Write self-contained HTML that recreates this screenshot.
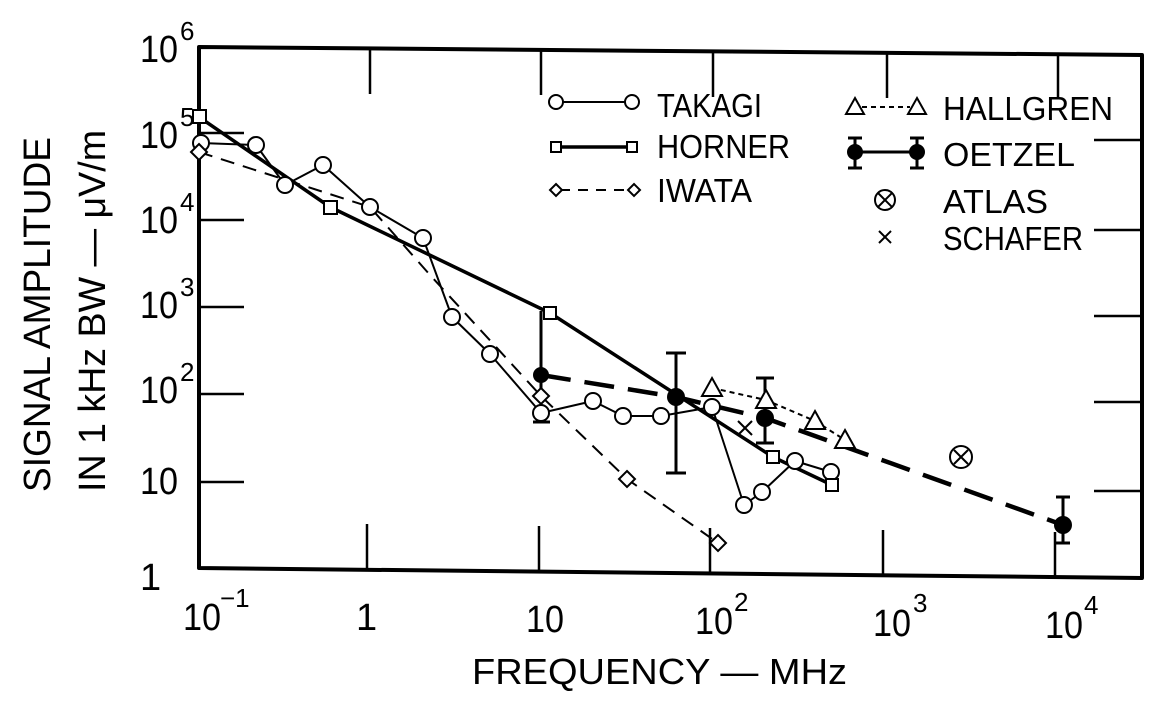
<!DOCTYPE html>
<html><head><meta charset="utf-8"><style>
html,body{margin:0;padding:0;background:#fff;}
svg{display:block;}
text{font-family:"Liberation Sans",sans-serif;fill:#000;}
</style></head><body>
<svg width="1174" height="701" viewBox="0 0 1174 701" xmlns="http://www.w3.org/2000/svg">
<g fill="none" stroke="#000" stroke-linejoin="round">
<polygon points="199,47 1142,55 1142,578 199,568" stroke-width="4"/>
<g stroke-width="2.5">
<line x1="199" y1="133" x2="244" y2="133"/><line x1="199" y1="220" x2="244" y2="220"/>
<line x1="199" y1="307" x2="244" y2="307"/><line x1="199" y1="394" x2="244" y2="394"/>
<line x1="199" y1="482" x2="244" y2="482"/>
<line x1="1094" y1="140" x2="1142" y2="140"/><line x1="1094" y1="230" x2="1142" y2="230"/>
<line x1="1094" y1="316" x2="1142" y2="316"/><line x1="1094" y1="402" x2="1142" y2="402"/>
<line x1="1094" y1="491" x2="1142" y2="491"/>
<line x1="370" y1="49" x2="370" y2="94"/><line x1="541" y1="50" x2="541" y2="95"/>
<line x1="713" y1="52" x2="713" y2="97"/><line x1="887" y1="53" x2="887" y2="98"/>
<line x1="1058" y1="54" x2="1058" y2="99"/>
<line x1="367" y1="569" x2="367" y2="524"/><line x1="539" y1="571" x2="539" y2="526"/>
<line x1="710" y1="573" x2="710" y2="528"/><line x1="883" y1="575" x2="883" y2="530"/>
<line x1="1055" y1="577" x2="1055" y2="532"/>
</g>
<polyline points="199,117 330,207 550,313 773,457 832,485" stroke-width="3.5"/>
<polyline points="201,143 256,145 285,185 323,165 370,207 423,238 452,317 490,354 541,413 593,401 623,416 661,416 712,407 744,505 762,492 795,461 831,472" stroke-width="2"/>
<polyline points="199,152 370,207 430,275 541,396 627,479 718,543" stroke-width="2" stroke-dasharray="14,9"/>
<polyline points="712,388 766,400 815,421 845,440" stroke-width="2" stroke-dasharray="5,4"/>
<polyline points="541,375 676,397 765,418 1063,525" stroke-width="4.5" stroke-dasharray="30,14"/>
<g stroke-width="3">
<line x1="541" y1="311" x2="541" y2="422"/><line x1="533" y1="422" x2="550" y2="422"/>
<line x1="676" y1="353" x2="676" y2="473"/><line x1="666" y1="353" x2="686" y2="353"/><line x1="666" y1="473" x2="686" y2="473"/>
<line x1="765" y1="378" x2="765" y2="443"/><line x1="756" y1="378" x2="774" y2="378"/><line x1="756" y1="443" x2="774" y2="443"/>
<line x1="1063" y1="497" x2="1063" y2="543"/><line x1="1056" y1="497" x2="1070" y2="497"/><line x1="1056" y1="543" x2="1070" y2="543"/>
</g>
</g>
<g fill="#fff" stroke="#000" stroke-width="2">
<g>
<circle cx="201" cy="143" r="8"/><circle cx="256" cy="145" r="8"/><circle cx="285" cy="185" r="8"/><circle cx="323" cy="165" r="8"/>
<circle cx="370" cy="207" r="8"/><circle cx="423" cy="238" r="8"/><circle cx="452" cy="317" r="8"/><circle cx="490" cy="354" r="8"/>
<circle cx="541" cy="413" r="8"/><circle cx="593" cy="401" r="8"/><circle cx="623" cy="416" r="8"/><circle cx="661" cy="416" r="8"/>
<circle cx="712" cy="407" r="8"/><circle cx="744" cy="505" r="8"/><circle cx="762" cy="492" r="8"/><circle cx="795" cy="461" r="8"/><circle cx="831" cy="472" r="8"/>
</g>
<rect x="193" y="110" width="13" height="13"/><rect x="324" y="201" width="13" height="13"/><rect x="544" y="307" width="12" height="12"/>
<rect x="767" y="451" width="12" height="12"/><rect x="826" y="479" width="12" height="12"/>
<polygon points="199,144 207,152 199,160 191,152"/><polygon points="541,388 549,396 541,404 533,396"/>
<polygon points="627,471 635,479 627,487 619,479"/><polygon points="718,535 726,543 718,551 710,543"/>
<polygon points="712,378 722,396 702,396"/><polygon points="766,390 776,408 756,408"/>
<polygon points="815,411 825,429 805,429"/><polygon points="845,430 855,448 835,448"/>
<circle cx="961" cy="457" r="11"/>
</g>
<g fill="#000"><circle cx="541" cy="375" r="8"/><circle cx="676" cy="397" r="9"/><circle cx="765" cy="418" r="9"/><circle cx="1063" cy="525" r="9"/></g>
<g stroke="#000" stroke-width="2"><line x1="954" y1="450" x2="968" y2="464"/><line x1="968" y1="450" x2="954" y2="464"/>
<line x1="738" y1="421" x2="752" y2="435"/><line x1="752" y1="421" x2="738" y2="435"/></g>
<g stroke="#000" stroke-width="2" fill="#fff">
<line x1="556" y1="102" x2="632" y2="102"/><circle cx="556" cy="102" r="7"/><circle cx="632" cy="102" r="7"/>
<line x1="558" y1="147" x2="632" y2="147" stroke-width="3.5"/><rect x="551" y="142" width="10" height="10"/><rect x="627" y="142" width="10" height="10"/>
<line x1="560" y1="190" x2="630" y2="190" stroke-dasharray="10,8"/>
<polygon points="556,184 562,190 556,196 550,190"/><polygon points="634,184 640,190 634,196 628,190"/>
<line x1="862" y1="107" x2="910" y2="107" stroke-dasharray="5,4"/>
<polygon points="855,98 864,114 846,114"/><polygon points="917,98 926,114 908,114"/>
<line x1="855" y1="152" x2="917" y2="152" stroke-width="3"/>
<line x1="855" y1="138" x2="855" y2="168" stroke-width="3"/><line x1="848" y1="138" x2="862" y2="138" stroke-width="3"/><line x1="848" y1="168" x2="862" y2="168" stroke-width="3"/>
<line x1="917" y1="138" x2="917" y2="168" stroke-width="3"/><line x1="910" y1="138" x2="924" y2="138" stroke-width="3"/><line x1="910" y1="168" x2="924" y2="168" stroke-width="3"/>
<circle cx="885" cy="200" r="10"/>
<line x1="878" y1="193" x2="892" y2="207"/><line x1="892" y1="193" x2="878" y2="207"/>
<line x1="879" y1="231" x2="891" y2="243"/><line x1="891" y1="231" x2="879" y2="243"/>
</g>
<circle cx="855" cy="152" r="8"/><circle cx="917" cy="152" r="8"/>
<g font-size="33">
<text x="657" y="117" textLength="105" lengthAdjust="spacingAndGlyphs">TAKAGI</text>
<text x="657" y="158" textLength="133" lengthAdjust="spacingAndGlyphs">HORNER</text>
<text x="657" y="202" textLength="95" lengthAdjust="spacingAndGlyphs">IWATA</text>
<text x="943" y="120" textLength="170" lengthAdjust="spacingAndGlyphs">HALLGREN</text>
<text x="943" y="166" textLength="132" lengthAdjust="spacingAndGlyphs">OETZEL</text>
<text x="943" y="213" textLength="105" lengthAdjust="spacingAndGlyphs">ATLAS</text>
<text x="943" y="250" textLength="140" lengthAdjust="spacingAndGlyphs">SCHAFER</text>
</g>
<g font-size="38">
<text x="140" y="62" textLength="38" lengthAdjust="spacingAndGlyphs">10</text><text x="180" y="40" font-size="26">6</text>
<text x="140" y="148" textLength="38" lengthAdjust="spacingAndGlyphs">10</text><text x="180" y="126" font-size="26">5</text>
<text x="140" y="233" textLength="38" lengthAdjust="spacingAndGlyphs">10</text><text x="180" y="211" font-size="26">4</text>
<text x="140" y="318" textLength="38" lengthAdjust="spacingAndGlyphs">10</text><text x="180" y="296" font-size="26">3</text>
<text x="140" y="403" textLength="38" lengthAdjust="spacingAndGlyphs">10</text><text x="180" y="381" font-size="26">2</text>
<text x="140" y="494" textLength="38" lengthAdjust="spacingAndGlyphs">10</text>
<text x="140" y="590">1</text>
<text x="183" y="630" textLength="38" lengthAdjust="spacingAndGlyphs">10</text><text x="220" y="607" font-size="26">−1</text>
<text x="356" y="630">1</text>
<text x="526" y="632" textLength="38" lengthAdjust="spacingAndGlyphs">10</text>
<text x="695" y="634" textLength="38" lengthAdjust="spacingAndGlyphs">10</text><text x="734" y="611" font-size="26">2</text>
<text x="873" y="636" textLength="38" lengthAdjust="spacingAndGlyphs">10</text><text x="913" y="612" font-size="26">3</text>
<text x="1045" y="638" textLength="38" lengthAdjust="spacingAndGlyphs">10</text><text x="1084" y="614" font-size="26">4</text>
</g>
<text x="472" y="684" font-size="36" textLength="375" lengthAdjust="spacingAndGlyphs">FREQUENCY — MHz</text>
<text transform="translate(50,492) rotate(-90)" font-size="38" textLength="355" lengthAdjust="spacingAndGlyphs">SIGNAL AMPLITUDE</text>
<text transform="translate(105,492) rotate(-90)" font-size="38" textLength="362" lengthAdjust="spacingAndGlyphs">IN 1 kHz BW — μV/m</text>
</svg>
</body></html>
